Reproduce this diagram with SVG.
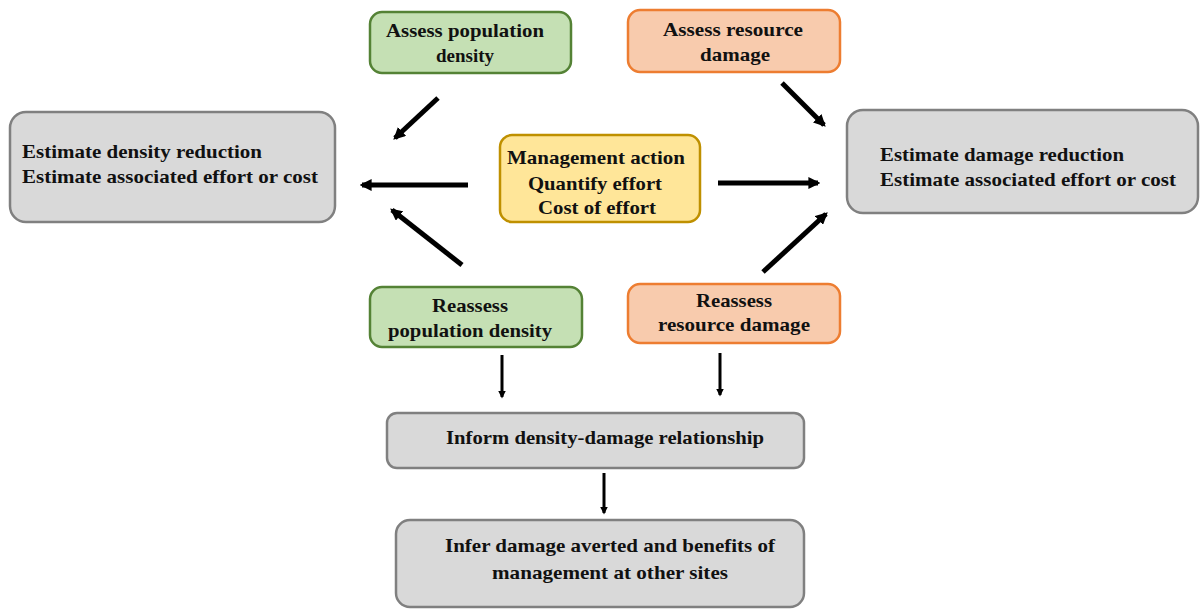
<svg xmlns="http://www.w3.org/2000/svg" width="1200" height="609" viewBox="0 0 1200 609">
<defs>
<style>
text{font-weight:bold;font-size:19px;fill:#111}
.c{text-anchor:middle}
.gray{fill:#d9d9d9;stroke:#808080;stroke-width:2.5}
.green{fill:#c5e0b4;stroke:#548235;stroke-width:2.5}
.orange{fill:#f8cbad;stroke:#ed7d31;stroke-width:2.5}
.yellow{fill:#ffe699;stroke:#bf9000;stroke-width:2.5}
.a{stroke:#000;stroke-width:5;fill:none;marker-end:url(#ah)}
.d{stroke:#000;stroke-width:3;fill:none;marker-end:url(#ah2)}
</style>
<marker id="ah" viewBox="0 0 10 10" refX="8" refY="5" markerWidth="2.4" markerHeight="2.4" orient="auto" markerUnits="strokeWidth"><path d="M0,0 L10,5 L0,10 z" fill="#000"/></marker>
<marker id="ah2" viewBox="0 0 10 10" refX="8" refY="5" markerWidth="2.6" markerHeight="2.6" orient="auto" markerUnits="strokeWidth"><path d="M0,0 L10,5 L0,10 z" fill="#000"/></marker>
</defs>
<rect width="1200" height="609" fill="#fff"/>
<g font-family="Liberation Serif, Times New Roman, serif">
<g id="assess-pop">
<rect class="green" x="370" y="12" width="201" height="61" rx="12"/>
<text class="c" x="465" y="37" textLength="158" lengthAdjust="spacingAndGlyphs">Assess population</text>
<text class="c" x="465" y="62">density</text>
</g>
<g id="assess-res">
<rect class="orange" x="628" y="10" width="212" height="62" rx="12"/>
<text class="c" x="733" y="36" textLength="140" lengthAdjust="spacingAndGlyphs">Assess resource</text>
<text class="c" x="735" y="61" textLength="70" lengthAdjust="spacingAndGlyphs">damage</text>
</g>
<g id="est-density">
<rect class="gray" x="10" y="112" width="325" height="110" rx="16"/>
<text x="22" y="158" textLength="240" lengthAdjust="spacingAndGlyphs">Estimate density reduction</text>
<text x="22" y="183" textLength="296" lengthAdjust="spacingAndGlyphs">Estimate associated effort or cost</text>
</g>
<g id="est-damage">
<rect class="gray" x="847" y="110" width="351" height="103" rx="16"/>
<text x="880" y="161" textLength="244" lengthAdjust="spacingAndGlyphs">Estimate damage reduction</text>
<text x="880" y="186" textLength="296" lengthAdjust="spacingAndGlyphs">Estimate associated effort or cost</text>
</g>
<g id="management">
<rect class="yellow" x="500" y="135" width="200" height="87" rx="12"/>
<text class="c" x="596" y="164" textLength="178" lengthAdjust="spacingAndGlyphs">Management action</text>
<text class="c" x="595" y="190" textLength="134" lengthAdjust="spacingAndGlyphs">Quantify effort</text>
<text class="c" x="597" y="214" textLength="118" lengthAdjust="spacingAndGlyphs">Cost of effort</text>
</g>
<g id="reassess-pop">
<rect class="green" x="370" y="287" width="212" height="60" rx="12"/>
<text class="c" x="470" y="312" textLength="76" lengthAdjust="spacingAndGlyphs">Reassess</text>
<text class="c" x="470" y="337" textLength="164" lengthAdjust="spacingAndGlyphs">population density</text>
</g>
<g id="reassess-res">
<rect class="orange" x="628" y="284" width="212" height="59" rx="12"/>
<text class="c" x="734" y="307" textLength="76" lengthAdjust="spacingAndGlyphs">Reassess</text>
<text class="c" x="734" y="331" textLength="152" lengthAdjust="spacingAndGlyphs">resource damage</text>
</g>
<g id="inform">
<rect class="gray" x="387" y="413" width="417" height="55" rx="10"/>
<text x="446" y="444" textLength="318" lengthAdjust="spacingAndGlyphs">Inform density-damage relationship</text>
</g>
<g id="infer">
<rect class="gray" x="396" y="520" width="408" height="87" rx="14"/>
<text class="c" x="610" y="552" textLength="330" lengthAdjust="spacingAndGlyphs">Infer damage averted and benefits of</text>
<text class="c" x="610" y="579" textLength="236" lengthAdjust="spacingAndGlyphs">management at other sites</text>
</g>
</g>
<g id="connectors">
<line class="a" x1="438" y1="98" x2="395" y2="138"/>
<line class="a" x1="782" y1="83" x2="824" y2="125"/>
<line class="a" x1="468" y1="185" x2="362" y2="185"/>
<line class="a" x1="718" y1="183" x2="818" y2="183"/>
<line class="a" x1="462" y1="265" x2="392" y2="210"/>
<line class="a" x1="763" y1="272" x2="826" y2="214"/>
<line class="d" x1="502" y1="355" x2="502" y2="397"/>
<line class="d" x1="720" y1="353" x2="720" y2="395"/>
<line class="d" x1="604" y1="473" x2="604" y2="513"/>
</g>
</svg>
